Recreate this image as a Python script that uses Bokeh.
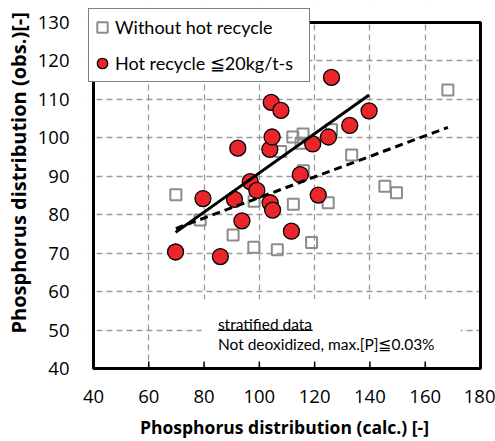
from bokeh.embed import file_html
from bokeh.models import BoxAnnotation, Label, Legend, LegendItem, Range1d, Title
from bokeh.plotting import figure
from bokeh.resources import INLINE

# Heats without hot recycle: calculated vs observed phosphorus distribution
cold_calc = [69.8, 78.6, 90.5, 98.0, 98.1, 106.5, 107.7, 112.1, 115.8, 115.1,
             112.3, 115.9, 118.9, 124.9, 126.1, 133.4, 145.4, 149.6, 168.2]
cold_obs = [85.2, 78.6, 74.7, 71.5, 83.5, 70.9, 96.4, 100.2, 101.0, 98.6,
            82.7, 91.4, 72.8, 83.1, 102.1, 95.5, 87.4, 85.7, 112.4]

# Heats with hot recycle >= 20 kg/t-s
hot_calc = [69.7, 79.6, 85.9, 91.0, 92.2, 93.7, 96.7, 99.1, 103.9, 104.8, 103.8,
            104.6, 104.3, 107.8, 111.6, 114.8, 119.3, 121.3, 125.0, 126.1, 132.7, 139.7]
hot_obs = [70.3, 84.2, 69.1, 84.0, 97.3, 78.4, 88.6, 86.3, 83.1, 81.2, 97.0,
           100.2, 109.2, 107.1, 75.7, 90.4, 98.4, 85.1, 100.2, 115.7, 103.2, 107.0]

# Linear trend lines (end points)
hot_fit_calc = [69.7, 139.7]
hot_fit_obs = [75.4, 111.1]
cold_fit_calc = [69.8, 168.2]
cold_fit_obs = [76.4, 102.7]

x_ticks = [40, 60, 80, 100, 120, 140, 160, 180]
y_ticks = [40, 50, 60, 70, 80, 90, 100, 110, 120, 130]

X_LO, X_HI = x_ticks[0], x_ticks[-1]
Y_LO, Y_HI = y_ticks[0], y_ticks[-1]

# The frame is a little larger than the 40-180 / 40-130 box so the legend can
# sit over its top-left corner; the box itself is drawn as a glyph.
PX_X = 388 / (X_HI - X_LO)
PX_Y = 348 / (Y_HI - Y_LO)
x_range = Range1d(X_LO - 7 / PX_X, X_HI + 2 / PX_X)
y_range = Range1d(Y_LO - 2 / PX_Y, Y_HI + 17 / PX_Y)

TXT = "Lato"
NUM = "Open Sans"

p = figure(width=495, height=441, output_backend="svg", toolbar_location=None,
           title=None, x_range=x_range, y_range=y_range,
           min_border_left=85, min_border_right=13, min_border_top=5,
           min_border_bottom=69)
p.outline_line_color = None

# grid
p.xgrid.ticker = x_ticks
p.ygrid.ticker = y_ticks
p.grid.grid_line_color = "#9a9a9a"
p.grid.grid_line_width = 1.3
p.grid.grid_line_dash = "6 4"

# white margins around the plotting box hide the grid outside it
far = 1000
for l, r, b, t in [(-far, far, Y_HI, far), (-far, X_LO, -far, far),
                   (X_HI, far, -far, far), (-far, far, -far, Y_LO)]:
    p.add_layout(BoxAnnotation(left=l, right=r, bottom=b, top=t, fill_color="white",
                               fill_alpha=1, line_alpha=0, level="underlay"))
# white panel behind the note
p.add_layout(BoxAnnotation(left=79.2, right=172.8, bottom=41.9, top=58.0,
                           fill_color="white", fill_alpha=1, line_alpha=0,
                           level="underlay"))

# axes
p.xaxis.ticker = x_ticks
p.yaxis.ticker = y_ticks
for ax in (p.xaxis, p.yaxis):
    ax.axis_line_color = None
    ax.minor_tick_line_color = None
    ax.major_tick_line_color = None
    ax.major_tick_in = 0
    ax.major_tick_out = 0
    ax.major_label_text_font = NUM
    ax.major_label_text_font_size = "18.5px"
    ax.major_label_text_color = "black"
p.xaxis.major_label_standoff = 19
p.yaxis.major_label_standoff = 17

p.xaxis.axis_label = "Phosphorus distribution (calc.) [-]"
p.xaxis.axis_label_text_font = NUM
p.xaxis.axis_label_text_font_size = "17.5px"
p.xaxis.axis_label_text_font_style = "bold"
p.xaxis.axis_label_text_color = "black"
p.xaxis.axis_label_standoff = 9

p.add_layout(Title(text="Phosphorus distribution (obs.)[-]", align="left",
                   offset=37, standoff=5, text_font=NUM, text_font_size="20px",
                   text_font_style="bold", text_color="black"), "left")

# plotting box and inward ticks on the bottom edge
p.quad(left=[X_LO], right=[X_HI], bottom=[Y_LO], top=[Y_HI], fill_color=None,
       line_color="black", line_width=3)
p.segment(x0=x_ticks, y0=[Y_LO] * len(x_ticks), x1=x_ticks,
          y1=[Y_LO + 7 / PX_Y] * len(x_ticks), line_color="black", line_width=1.5)

squares = p.scatter(cold_calc, cold_obs, marker="square", size=11,
                    fill_color=None, line_color="#8c8c8c", line_width=2)
circles = p.scatter(hot_calc, hot_obs, marker="circle", size=16,
                    fill_color="#e8262b", line_color="black", line_width=1.3)

p.line(hot_fit_calc, hot_fit_obs, line_color="black", line_width=3)
p.line(cold_fit_calc, cold_fit_obs, line_color="black", line_width=3,
       line_dash="8 5")

# note
p.add_layout(Label(x=85.0, y=51.64, text="stratified data", text_align="left",
                   text_baseline="alphabetic", text_font=TXT,
                   text_font_size="15.5px", text_color="black"))
p.segment(x0=[85.0], y0=[49.9], x1=[119.3], y1=[49.9], line_color="black",
          line_width=1.2)
p.add_layout(Label(x=85.0, y=46.47, text="Not deoxidized, max.[P]≦0.03%",
                   text_align="left", text_baseline="alphabetic",
                   text_font=TXT, text_font_size="15.5px", text_color="black"))

legend = Legend(items=[LegendItem(label="Without hot recycle", renderers=[squares]),
                       LegendItem(label="Hot recycle ≦20kg/t-s", renderers=[circles])],
                location=(2, 288))
legend.glyph_width = 26
legend.glyph_height = 36
legend.padding = 0
legend.spacing = 0
legend.margin = 0
legend.label_standoff = -7
legend.label_width = 194
legend.label_text_font = TXT
legend.label_text_font_size = "18px"
legend.label_text_color = "black"
legend.border_line_color = "black"
legend.border_line_width = 1.5
legend.background_fill_color = "white"
legend.background_fill_alpha = 1
p.add_layout(legend)

open("out.html", "w").write(file_html(p, INLINE))
